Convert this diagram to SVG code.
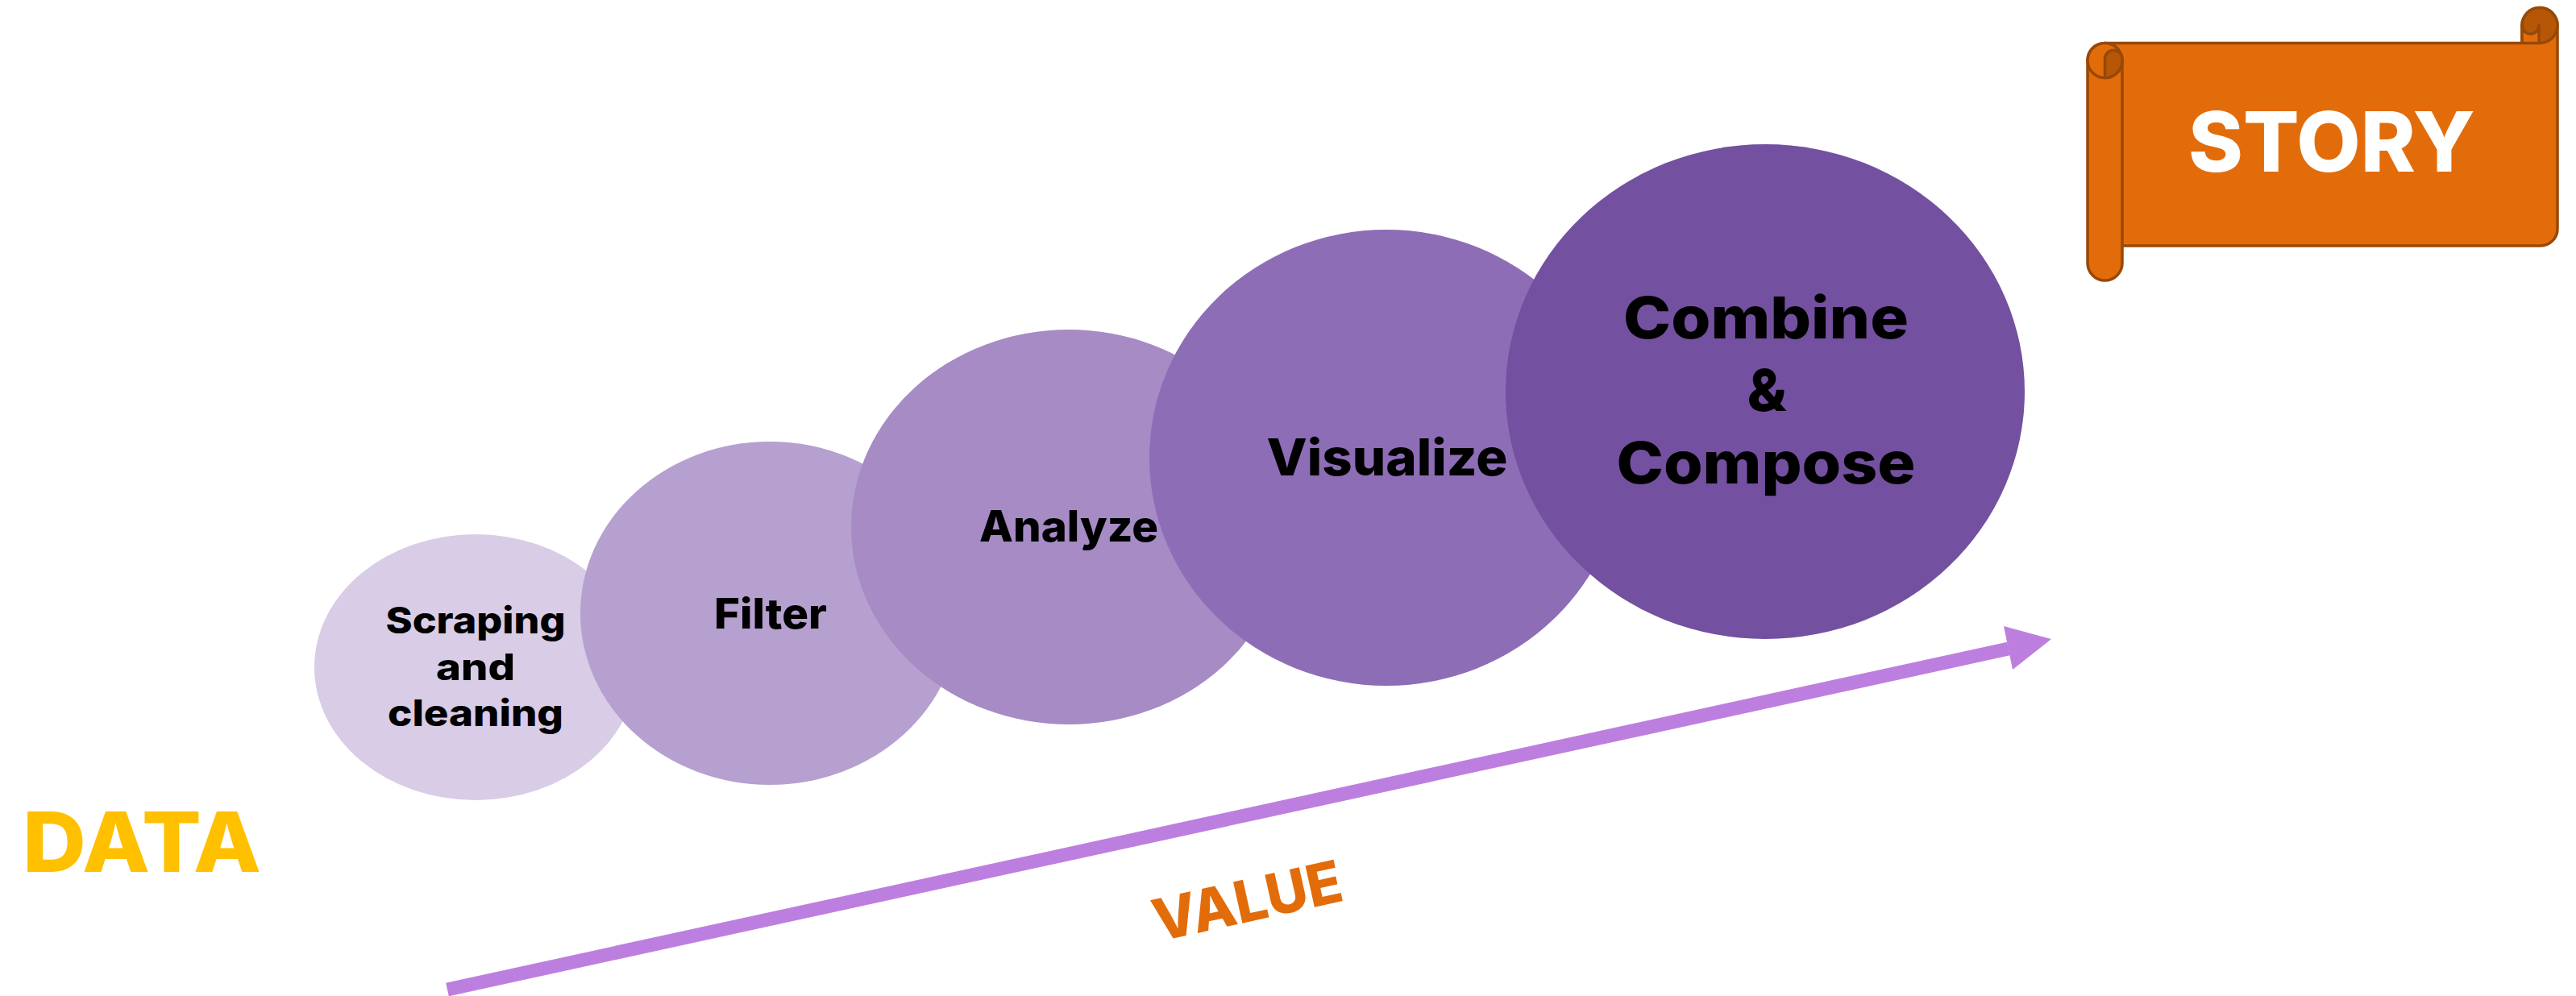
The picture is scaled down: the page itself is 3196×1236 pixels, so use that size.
<svg xmlns="http://www.w3.org/2000/svg" width="3196" height="1236" viewBox="0 0 3196 1236">
  <style>
    .lbl { font-family: Inter, "Liberation Sans", "DejaVu Sans", sans-serif; font-weight: 800; fill: #000000; text-anchor: middle; }
    .big { font-family: Inter, "Liberation Sans", "DejaVu Sans", sans-serif; font-weight: 800; text-anchor: middle; }
    .scr { fill: #E36C0A; stroke: #984807; stroke-width: 3.5; stroke-linejoin: round; }
    .scrd { fill: #B65708; stroke: #984807; stroke-width: 3.5; stroke-linejoin: round; }
  </style>
  <rect width="3196" height="1236" fill="#FFFFFF"/>

  <g id="scraping">
    <ellipse cx="590" cy="828" rx="200" ry="165" fill="#D9CCE6"/>
    <text class="lbl" font-size="45" x="590" y="786" textLength="223" lengthAdjust="spacingAndGlyphs">Scraping</text>
    <text class="lbl" font-size="45" x="590" y="844" textLength="98" lengthAdjust="spacingAndGlyphs">and</text>
    <text class="lbl" font-size="45" x="590" y="901" textLength="218" lengthAdjust="spacingAndGlyphs">cleaning</text>
  </g>
  <g id="filter">
    <ellipse cx="955" cy="761" rx="235" ry="213" fill="#B5A0D0"/>
    <text class="lbl" font-size="52" x="956" y="780" textLength="140" lengthAdjust="spacingAndGlyphs">Filter</text>
  </g>
  <g id="analyze">
    <ellipse cx="1326" cy="654" rx="270" ry="245" fill="#A68BC5"/>
    <text class="lbl" font-size="53" x="1326" y="672" textLength="222" lengthAdjust="spacingAndGlyphs">Analyze</text>
  </g>
  <g id="visualize">
    <ellipse cx="1720" cy="568" rx="294" ry="283" fill="#8E6DB7"/>
    <text class="lbl" font-size="63" x="1721" y="590" textLength="299" lengthAdjust="spacingAndGlyphs">Visualize</text>
  </g>
  <g id="combine">
    <ellipse cx="2190" cy="486" rx="322" ry="307" fill="#7450A0"/>
    <text class="lbl" font-size="72" x="2191" y="420" textLength="354" lengthAdjust="spacingAndGlyphs">Combine</text>
    <text class="lbl" font-size="72" x="2192" y="510">&amp;</text>
    <text class="lbl" font-size="72" x="2191" y="600" textLength="371" lengthAdjust="spacingAndGlyphs">Compose</text>
  </g>

  <g id="story">
    <path class="scr" d="M 2590,75 A 21.5 21.5 0 0 1 2611.5,53.5 L 3129,53.5 L 3129,31.5 A 22 22 0 0 1 3173,31.5 L 3173,284 A 21 21 0 0 1 3152,305 L 2633,305 L 2633,326.5 A 21.5 21.5 0 0 1 2590,326.5 Z"/>
    <circle class="scr" cx="2611.5" cy="75" r="21.5"/>
    <path class="scrd" d="M 2611.5,96.5 L 2611.5,73 A 10.75 10.75 0 0 1 2633,73 L 2633,75 A 21.5 21.5 0 0 1 2611.5,96.5 Z"/>
    <path d="M 2633,75 L 2633,305" fill="none" stroke="#984807" stroke-width="3.5"/>
    <circle class="scrd" cx="3151" cy="31.5" r="22"/>
    <path class="scr" d="M 3129,31.5 A 10.5 10.5 0 0 0 3150,31.5 L 3150,53.5 L 3129,53.5 Z"/>
    <text class="big" font-size="103" x="2893" y="213" fill="#FFFFFF" textLength="356" lengthAdjust="spacingAndGlyphs">STORY</text>
  </g>

  <g id="data">
    <text class="big" font-size="103" x="176" y="1082" fill="#FFC000" textLength="296" lengthAdjust="spacingAndGlyphs">DATA</text>
  </g>

  <g id="connectors">
    <line x1="555" y1="1228" x2="2492" y2="805" stroke="#BD7FDF" stroke-width="17" stroke-linecap="butt"/>
    <polygon points="2545,793 2486,777 2497,831" fill="#BD7FDF"/>
    <text class="big" font-size="72" x="1553" y="1143" fill="#E36C0A" transform="rotate(-12.5 1553 1143)" textLength="238" lengthAdjust="spacingAndGlyphs">VALUE</text>
  </g>
</svg>
